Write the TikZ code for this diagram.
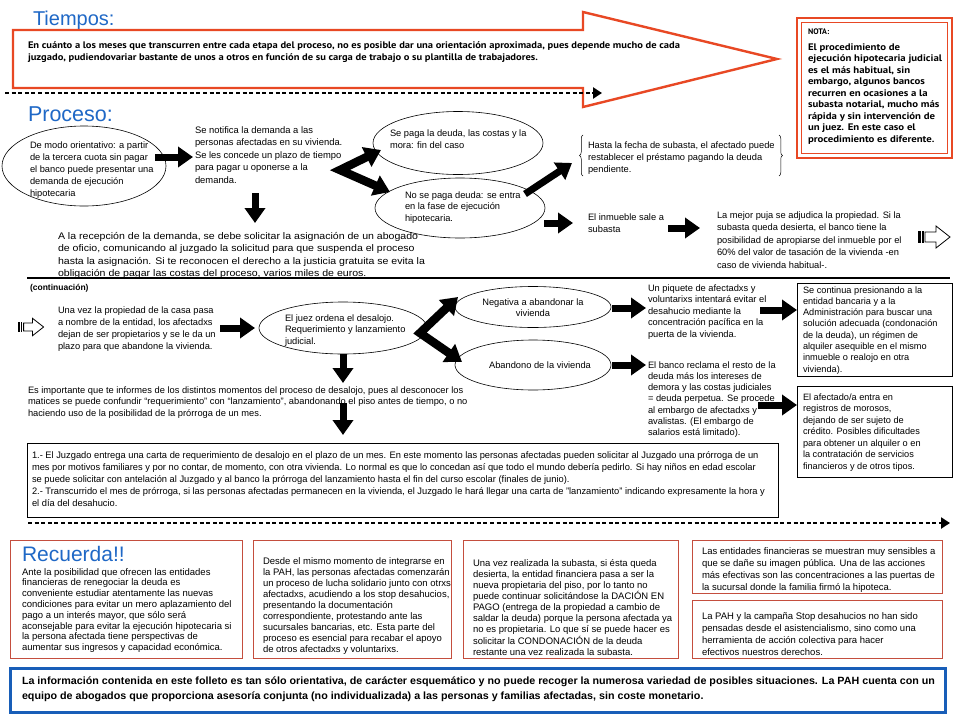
\documentclass[tikz,border=0pt]{standalone}
\usepackage{fontspec}
\setmainfont{Liberation Sans}
\newfontfamily\ptb{PT Sans}
\usepackage{graphicx}
\usetikzlibrary{arrows.meta,decorations.pathreplacing,shapes.geometric}
\definecolor{tblue}{RGB}{31,104,198}
\definecolor{ored}{RGB}{232,72,36}
\definecolor{bred}{RGB}{196,78,62}
\definecolor{fblue}{RGB}{24,94,184}
\newcommand{\TL}[1]{\begin{tabular}[t]{@{}l@{}}#1\end{tabular}}
\newcommand{\TC}[1]{\begin{tabular}[t]{@{}c@{}}#1\end{tabular}}
\newcommand{\FW}[2]{\resizebox{#1}{\height}{\TL{#2}}}
\begin{document}
\begin{tikzpicture}[x=1pt,y=-1pt,
  tx/.style={anchor=base west, inner sep=0pt, outer sep=0pt},
  tc/.style={anchor=base, inner sep=0pt, outer sep=0pt},
  fs/.style 2 args={font=\fontsize{#1}{#2}\selectfont},
  bigarrow/.style={line width=7pt, -{Triangle[length=15pt,width=20pt]}},
  varrow/.style={line width=8.5pt, {Triangle[length=16pt,width=21pt]}-{Triangle[length=16pt,width=21pt]}, line join=miter},
  ell/.style={draw, ellipse, line width=0.6pt, fill=white, inner sep=0pt},
  dline/.style={line width=2.2pt, dash pattern=on 4pt off 2.6pt, -{Triangle[length=9pt,width=11pt]}},
  rbox/.style={draw=bred, line width=0.9pt},
  blk/.style={draw=black, line width=0.8pt},
  striped/.pic={
    \fill (0,-6) rectangle (2.6,6);
    \fill (4,-6) rectangle (5.5,6);
    \draw[line width=0.8pt] (7,-5) -- (18,-5) -- (18,-11) -- (32,0) -- (18,11) -- (18,5) -- (7,5) -- cycle;
  }
]
\useasboundingbox (0,0) rectangle (960,720);
\fill[white] (0,0) rectangle (960,720);

% ---------------- ellipses (drawn first) ----------------
\node[ell, minimum width=164pt, minimum height=80pt] (e1) at (84,166) {};
\node[ell, minimum width=170pt, minimum height=63pt] (e2) at (458,143) {};
\node[ell, minimum width=170pt, minimum height=60pt] (e3) at (460,208) {};
\node[ell, minimum width=168pt, minimum height=52pt] (e4) at (343,328) {};
\node[ell, minimum width=156pt, minimum height=41pt] (e5) at (533,307) {};
\node[ell, minimum width=156pt, minimum height=50pt] (e6) at (533,365) {};

% ---------------- Tiempos ----------------
\node[tx, text=tblue, fs={20}{24}] (tiempos) at (33,25) {Tiempos:};
\draw[ored, line width=2.4pt, line join=miter] (13,30) -- (583,30) -- (583,12) -- (777,59) -- (583,107) -- (583,88) -- (13,88) -- cycle;
\node[tx] (tiemposT) at (28,48) {\fontsize{9.5}{12}\selectfont\ptb\bfseries\FW{652pt}{En cuánto a los meses que transcurren entre cada etapa del proceso, no es posible dar una orientación aproximada, pues depende mucho de cada\\ juzgado, pudiendovariar bastante de unos a otros en función de su carga de trabajo o su plantilla de trabajadores.}};
\coordinate (d1s) at (5,93); \coordinate (d1e) at (602,93);
\draw[dline] (d1s) -- (d1e);

% NOTA
\draw[ored, line width=1.6pt] (797,18) rectangle (952,158);
\draw[ored, line width=1pt, fill=white] (801.5,22.5) rectangle (947.5,153.5);
\node[tx] (notaT) at (808,34) {\fontsize{8}{10}\selectfont\ptb\bfseries NOTA:};
\node[tx] (nota) at (808,50) {\fontsize{9.5}{11.5}\selectfont\ptb\bfseries\FW{134pt}{El procedimiento de\\ ejecución hipotecaria judicial\\ es el más habitual, sin\\ embargo, algunos bancos\\ recurren en ocasiones a la\\ subasta notarial, mucho más\\ rápida y sin intervención de\\ un juez. En este caso el\\ procedimiento es diferente.}};

% ---------------- Proceso ----------------
\node[tx, text=tblue, fs={21.5}{24}] (proceso) at (28,121) {Proceso:};
\node[tx, fs={9.3}{12}] (e1t) at (30,148) {\TL{De modo orientativo: a partir\\ de la tercera cuota sin pagar\\ el banco puede presentar una\\ demanda de ejecución\\ hipotecaria}};
\node[tx, fs={9.4}{12.5}] (t2) at (195,133) {\TL{Se notifica la demanda a las\\ personas afectadas en su vivienda.\\ Se les concede un plazo de tiempo\\ para pagar u oponerse a la\\ demanda.}};
\node[tx] (t3) at (58,239) {\fontsize{9.6}{12.5}\selectfont\FW{367pt}{A la recepción de la demanda, se debe solicitar la asignación de un abogado\\ de oficio, comunicando al juzgado la solicitud para que suspenda el proceso\\ hasta la asignación. Si te reconocen el derecho a la justicia gratuita se evita la\\ obligación de pagar las costas del proceso, varios miles de euros.}};
\node[tx, fs={9.3}{12}] (e2t) at (390,136) {\TL{Se paga la deuda, las costas y la\\ mora: fin del caso}};
\node[tx, fs={9.3}{11.5}] (e3t) at (405,198) {\TL{No se paga deuda: se entra\\ en la fase de ejecución\\ hipotecaria.}};
\node[tx, fs={9.3}{12}] (brace) at (588,148) {\TL{Hasta la fecha de subasta, el afectado puede\\ restablecer el préstamo pagando la deuda\\ pendiente.}};
\draw[decorate, decoration={brace, amplitude=3.5pt}, line width=0.5pt] (583,176) -- (583,135);
\draw[decorate, decoration={brace, amplitude=3.5pt}, line width=0.5pt] (779,135) -- (779,176);
\node[tx, fs={9.3}{12}] (inm) at (588,220) {\TL{El inmueble sale a\\ subasta}};
\node[tx, fs={9.3}{12.5}] (puja) at (717,218) {\TL{La mejor puja se adjudica la propiedad. Si la\\ subasta queda desierta, el banco tiene la\\ posibilidad de apropiarse del inmueble por el\\ 60\% del valor de tasación de la vivienda -en\\ caso de vivienda habitual-.}};
\pic (sarrR) at (918,237) {striped};

\coordinate (a1s) at (155,157); \coordinate (a1e) at (193,157);
\draw[bigarrow] (a1s) -- (a1e);
\coordinate (a2s) at (255,193); \coordinate (a2e) at (255,223);
\draw[bigarrow] (a2s) -- (a2e);
\coordinate (v1u) at (381,150); \coordinate (v1) at (340,170); \coordinate (v1l) at (390,192);
\draw[varrow] (v1u) -- (v1) -- (v1l);
\coordinate (a3s) at (525,194); \coordinate (a3e) at (572,163);
\draw[bigarrow] (a3s) -- (a3e);
\coordinate (a4s) at (544,223); \coordinate (a4e) at (573,223);
\draw[bigarrow] (a4s) -- (a4e);
\coordinate (a5s) at (668,228); \coordinate (a5e) at (700,228);
\draw[bigarrow] (a5s) -- (a5e);

\coordinate (hl1) at (27,278); \coordinate (hl2) at (950,278);
\draw[line width=1.4pt] (hl1) -- (hl2);

% ---------------- Continuacion ----------------
\node[tx, fs={8.5}{10}] (cont) at (30,290) {\bfseries(continuación)};
\pic[scale=0.8] (sarrL) at (18,327) {striped};
\node[tx, fs={9.3}{12.3}] (una) at (58,313) {\TL{Una vez la propiedad de la casa pasa\\ a nombre de la entidad, los afectadxs\\ dejan de ser propietarios y se le da un\\ plazo para que abandone la vivienda.}};
\node[tx, fs={9.3}{11.5}] (e4t) at (285,321) {\TL{El juez ordena el desalojo.\\ Requerimiento y lanzamiento\\ judicial.}};
\node[tc, fs={9.3}{11.5}] (e5t) at (533,305) {\TC{Negativa a abandonar la\\ vivienda}};
\node[tc, fs={9.3}{11.5}] (e6t) at (540,368) {Abandono de la vivienda};
\node[tx, fs={9.3}{11.5}] (piq) at (648,291) {\TL{Un piquete de afectadxs y\\ voluntarixs intentará evitar el\\ desahucio mediante la\\ concentración pacífica en la\\ puerta de la vivienda.}};
\node[tx, fs={9.3}{11.3}] (banco) at (648,368) {\TL{El banco reclama el resto de la\\ deuda más los intereses de\\ demora y las costas judiciales\\ = deuda perpetua. Se procede\\ al embargo de afectadxs y\\ avalistas. (El embargo de\\ salarios está limitado).}};
\draw[blk] (797,283) rectangle (952,376);
\node[tx, fs={9.2}{11.3}] (contin) at (803,293) {\TL{Se continua presionando a la\\ entidad bancaria y a la\\ Administración para buscar una\\ solución adecuada (condonación\\ de la deuda), un régimen de\\ alquiler asequible en el mismo\\ inmueble o realojo en otra\\ vivienda).}};
\draw[blk] (797,386) rectangle (952,477);
\node[tx, fs={9.2}{11.5}] (afect) at (803,400) {\TL{El afectado/a entra en\\ registros de morosos,\\ dejando de ser sujeto de\\ crédito. Posibles dificultades\\ para obtener un alquiler o en\\ la contratación de servicios\\ financieros y de otros tipos.}};
\node[tx, fs={9.3}{11.5}] (impor) at (28,393) {\TL{Es importante que te informes de los distintos momentos del proceso de desalojo, pues al desconocer los\\ matices se puede confundir “requerimiento” con “lanzamiento”, abandonando el piso antes de tiempo, o no\\ haciendo uso de la posibilidad de la prórroga de un mes.}};
\draw[blk] (27,443) rectangle (778,517);
\node[tx] (juz) at (32,458) {\fontsize{9.4}{12.2}\selectfont\FW{733pt}{1.- El Juzgado entrega una carta de requerimiento de desalojo en el plazo de un mes. En este momento las personas afectadas pueden solicitar al Juzgado una prórroga de un\\ mes por motivos familiares y por no contar, de momento, con otra vivienda. Lo normal es que lo concedan así que todo el mundo debería pedirlo. Si hay niños en edad escolar\\ se puede solicitar con antelación al Juzgado y al banco la prórroga del lanzamiento hasta el fin del curso escolar (finales de junio).\\ 2.- Transcurrido el mes de prórroga, si las personas afectadas permanecen en la vivienda, el Juzgado le hará llegar una carta de "lanzamiento" indicando expresamente la hora y\\ el día del desahucio.}};

\coordinate (a6s) at (220,328); \coordinate (a6e) at (255,328);
\draw[bigarrow] (a6s) -- (a6e);
\coordinate (v2u) at (458,297); \coordinate (v2) at (420,333); \coordinate (v2l) at (462,362);
\draw[varrow] (v2u) -- (v2) -- (v2l);
\coordinate (a7s) at (612,308); \coordinate (a7e) at (646,308);
\draw[bigarrow] (a7s) -- (a7e);
\coordinate (a8s) at (612,365); \coordinate (a8e) at (646,365);
\draw[bigarrow] (a8s) -- (a8e);
\coordinate (a9s) at (760,310); \coordinate (a9e) at (797,310);
\draw[bigarrow] (a9s) -- (a9e);
\coordinate (a10s) at (758,405); \coordinate (a10e) at (797,405);
\draw[bigarrow] (a10s) -- (a10e);
\coordinate (a11s) at (343,354); \coordinate (a11e) at (343,383);
\draw[bigarrow] (a11s) -- (a11e);
\coordinate (a12s) at (343,403); \coordinate (a12e) at (343,435);
\draw[bigarrow] (a12s) -- (a12e);

\coordinate (d2s) at (28,523); \coordinate (d2e) at (950,523);
\draw[dline] (d2s) -- (d2e);

% ---------------- Recuerda ----------------
\draw[rbox] (10,540) rectangle (242,658);
\node[tx, text=tblue, fs={21}{24}] (recuerda) at (22,561) {Recuerda!!};
\node[tx, fs={9.5}{10.8}] (bA) at (22,575) {\TL{Ante la posibilidad que ofrecen las entidades\\ financieras de renegociar la deuda es\\ conveniente estudiar atentamente las nuevas\\ condiciones para evitar un mero aplazamiento del\\ pago a un interés mayor, que sólo será\\ aconsejable para evitar la ejecución hipotecaria si\\ la persona afectada tiene perspectivas de\\ aumentar sus ingresos y capacidad económica.}};
\draw[rbox] (253,540) rectangle (451,658);
\node[tx, fs={9.5}{11.1}] (bB) at (263,564) {\TL{Desde el mismo momento de integrarse en\\ la PAH, las personas afectadas comenzarán\\ un proceso de lucha solidario junto con otrxs\\ afectadxs, acudiendo a los stop desahucios,\\ presentando la documentación\\ correspondiente, protestando ante las\\ sucursales bancarias, etc. Esta parte del\\ proceso es esencial para recabar el apoyo\\ de otros afectadxs y voluntarixs.}};
\draw[rbox] (463,540) rectangle (678,658);
\node[tx, fs={9.5}{11}] (bC) at (473,566) {\TL{Una vez realizada la subasta, si ésta queda\\ desierta, la entidad financiera pasa a ser la\\ nueva propietaria del piso, por lo tanto no\\ puede continuar solicitándose la DACIÓN EN\\ PAGO (entrega de la propiedad a cambio de\\ saldar la deuda) porque la persona afectada ya\\ no es propietaria. Lo que sí se puede hacer es\\ solicitar la CONDONACIÓN de la deuda\\ restante una vez realizada la subasta.}};
\draw[rbox] (692,540) rectangle (942,593);
\node[tx, fs={9.5}{12}] (bD) at (702,554) {\TL{Las entidades financieras se muestran muy sensibles a\\ que se dañe su imagen pública. Una de las acciones\\ más efectivas son las concentraciones a las puertas de\\ la sucursal donde la familia firmó la hipoteca.}};
\draw[rbox] (692,600) rectangle (942,658);
\node[tx, fs={9.5}{12}] (bE) at (702,619) {\TL{La PAH y la campaña Stop desahucios no han sido\\ pensadas desde el asistencialismo, sino como una\\ herramienta de acción colectiva para hacer\\ efectivos nuestros derechos.}};

% ---------------- Footer ----------------
\draw[fblue, line width=3pt] (10,668) rectangle (945,712);
\node[tx] (foot) at (22,684) {\fontsize{10.5}{15}\selectfont\bfseries\FW{913pt}{La información contenida en este folleto es tan sólo orientativa, de carácter esquemático y no puede recoger la numerosa variedad de posibles situaciones. La PAH cuenta con un\\ equipo de abogados que proporciona asesoría conjunta (no individualizada) a las personas y familias afectadas, sin coste monetario.}};
\end{tikzpicture}
\end{document}
